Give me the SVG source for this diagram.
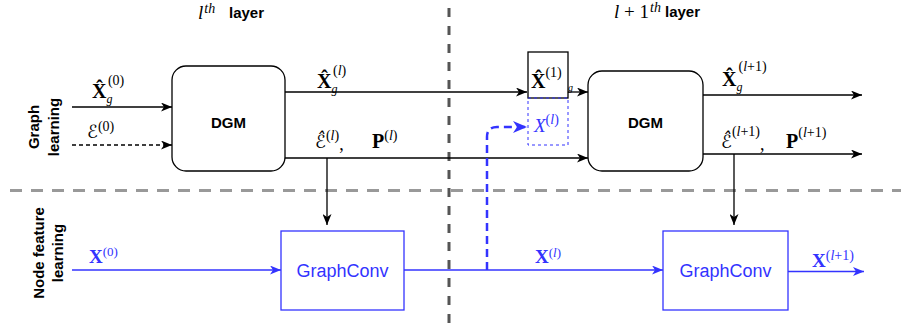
<svg xmlns="http://www.w3.org/2000/svg" width="901" height="329" viewBox="0 0 901 329">
<style>
.box{fill:#fff;stroke:#000;stroke-width:1.3}
.gc{fill:#fff;stroke:#3333ff;stroke-width:1.3}
.lbl{font-family:"Liberation Sans",Arial,sans-serif;font-weight:bold;font-size:15px;fill:#000}
.gct{font-family:"Liberation Sans",Arial,sans-serif;font-size:18px;fill:#3333ff}
.m{font-family:"Liberation Serif","DejaVu Serif",serif;fill:#000}
.b{font-weight:bold}
.i{font-style:italic}
.blue{fill:#3333ff}
.cal{font-family:"DejaVu Serif","DejaVu Sans",serif;font-style:italic}
.k{fill:none;stroke:#000;stroke-width:1.3}
.bl{fill:none;stroke:#3333ff;stroke-width:1.3}
</style>
<defs>
<marker id="ak" markerUnits="userSpaceOnUse" markerWidth="11" markerHeight="9" refX="11" refY="4.5" orient="auto"><path d="M0,0 L11,4.5 L0,9 L3,4.5 Z" fill="#000"/></marker>
<marker id="ab" markerUnits="userSpaceOnUse" markerWidth="11" markerHeight="9" refX="11" refY="4.5" orient="auto"><path d="M0,0 L11,4.5 L0,9 L3,4.5 Z" fill="#3333ff"/></marker>
<marker id="abig" markerUnits="userSpaceOnUse" markerWidth="14" markerHeight="12" refX="14" refY="6" orient="auto"><path d="M0,0 L14,6 L0,12 L4,6 Z" fill="#3333ff"/></marker>
</defs>

<g id="separators">
<line x1="10" y1="190.5" x2="901" y2="190.5" stroke="#999" stroke-width="3" stroke-dasharray="12 9"/>
<line x1="449" y1="8" x2="449" y2="329" stroke="#555" stroke-width="3" stroke-dasharray="9 9"/>
</g>

<g id="titles">
<text class="m" font-size="19" x="198" y="19"><tspan class="i">l</tspan><tspan class="i" font-size="14" dx="1" dy="-6">th</tspan></text>
<text class="lbl" x="229" y="18">layer</text>
<text class="m" font-size="19" x="614" y="18"><tspan class="i">l</tspan> + 1<tspan class="i" font-size="14" dx="1" dy="-6">th</tspan></text>
<text class="lbl" x="665" y="17">layer</text>
</g>

<g id="row-labels">
<text class="lbl" text-anchor="middle" transform="translate(39,127) rotate(-90)">Graph</text>
<text class="lbl" text-anchor="middle" transform="translate(59,127) rotate(-90)">learning</text>
<text class="lbl" text-anchor="middle" transform="translate(44,253) rotate(-90)">Node feature</text>
<text class="lbl" text-anchor="middle" transform="translate(63,253) rotate(-90)">learning</text>
</g>

<g id="connectors">
<line class="k" x1="72" y1="107" x2="172" y2="107" marker-end="url(#ak)"/>
<line class="k" x1="72" y1="145" x2="172" y2="145" stroke-dasharray="4 3" marker-end="url(#ak)"/>
<line class="k" x1="285" y1="92" x2="527" y2="92" marker-end="url(#ak)"/>
<line class="k" x1="568" y1="92" x2="588" y2="92" marker-end="url(#ak)"/>
<line class="k" x1="285" y1="158" x2="588" y2="158" marker-end="url(#ak)"/>
<line class="k" x1="327" y1="158" x2="327" y2="225" marker-end="url(#ak)"/>
<line class="k" x1="703" y1="95" x2="862" y2="95" marker-end="url(#ak)"/>
<line class="k" x1="703" y1="154" x2="862" y2="154" marker-end="url(#ak)"/>
<line class="k" x1="734" y1="154" x2="734" y2="225" marker-end="url(#ak)"/>
<line class="bl" x1="72" y1="270" x2="281" y2="270" marker-end="url(#ab)"/>
<line class="bl" x1="404" y1="270" x2="663" y2="270" marker-end="url(#ab)"/>
<line class="bl" x1="788" y1="271.5" x2="864" y2="271.5" marker-end="url(#ab)"/>
<path d="M487,270 L487,137 Q487,127 497,127 L527,127" fill="none" stroke="#3333ff" stroke-width="2.5" stroke-dasharray="8 5" marker-end="url(#abig)"/>
</g>

<g id="dgm1">
<rect class="box" x="172" y="66" width="113" height="105" rx="14"/>
<text class="lbl" x="228.5" y="128" text-anchor="middle">DGM</text>
</g>
<g id="dgm2">
<rect class="box" x="588" y="71" width="115" height="100" rx="14"/>
<text class="lbl" x="645.5" y="128" text-anchor="middle">DGM</text>
</g>
<g id="graphconv1">
<rect class="gc" x="281" y="231" width="123" height="79"/>
<text class="gct" x="342.5" y="277" text-anchor="middle">GraphConv</text>
</g>
<g id="graphconv2">
<rect class="gc" x="663" y="231" width="125" height="79"/>
<text class="gct" x="725.5" y="277" text-anchor="middle">GraphConv</text>
</g>
<g id="xhat1-box">
<rect x="528" y="52" width="40" height="46" fill="#fff" stroke="#000" stroke-width="1.3"/>
<text class="m" x="531" y="88"><tspan class="b" font-size="20">X̂</tspan><tspan font-size="14" dy="-11">(1)</tspan></text>
<text class="m i" font-size="10" x="568" y="91">g</text>
</g>
<g id="xl-box">
<rect x="528" y="98" width="40" height="47" fill="none" stroke="#3333ff" stroke-width="1" stroke-dasharray="3 3"/>
<text class="m blue" x="534" y="132"><tspan class="i" font-size="19">X</tspan><tspan font-size="14" dy="-8">(<tspan class="i">l</tspan>)</tspan></text>
</g>

<g id="labels">
<text class="m" x="92" y="98"><tspan class="b" font-size="20">X̂</tspan><tspan class="i" font-size="12" dy="5">g</tspan><tspan font-size="14" dx="-4.5" dy="-18">(0)</tspan></text>
<text class="m" x="87" y="138"><tspan class="cal" font-size="18">ℰ</tspan><tspan font-size="14" dy="-7">(0)</tspan></text>
<text class="m" x="317" y="88"><tspan class="b" font-size="20">X̂</tspan><tspan class="i" font-size="12" dy="5">g</tspan><tspan font-size="14" dx="-4.5" dy="-18">(<tspan class="i">l</tspan>)</tspan></text>
<text class="m" x="315" y="148"><tspan class="cal" font-size="18">ℰ̂</tspan><tspan font-size="14" dy="-8">(<tspan class="i">l</tspan>)</tspan><tspan font-size="18" dy="10">,</tspan></text>
<text class="m" x="372" y="148"><tspan class="b" font-size="20">P</tspan><tspan font-size="14" dy="-8">(<tspan class="i">l</tspan>)</tspan></text>
<text class="m" x="722" y="86"><tspan class="b" font-size="20">X̂</tspan><tspan class="i" font-size="12" dy="5">g</tspan><tspan font-size="14" dx="-4" dy="-20">(<tspan class="i">l</tspan>+1)</tspan></text>
<text class="m" x="721" y="148"><tspan class="cal" font-size="18">ℰ̂</tspan><tspan font-size="14" dy="-12">(<tspan class="i">l</tspan>+1)</tspan><tspan font-size="18" dy="14">,</tspan></text>
<text class="m" x="786" y="148"><tspan class="b" font-size="20">P</tspan><tspan font-size="14" dy="-11">(<tspan class="i">l</tspan>+1)</tspan></text>
<text class="m blue" x="89" y="263"><tspan class="b" font-size="19">X</tspan><tspan font-size="13" dy="-7">(0)</tspan></text>
<text class="m blue" x="535" y="263"><tspan class="b" font-size="19">X</tspan><tspan font-size="13" dy="-6">(<tspan class="i">l</tspan>)</tspan></text>
<text class="m blue" x="812" y="267"><tspan class="b" font-size="19">X</tspan><tspan font-size="14" dy="-7">(<tspan class="i">l</tspan>+1)</tspan></text>
</g>
</svg>
